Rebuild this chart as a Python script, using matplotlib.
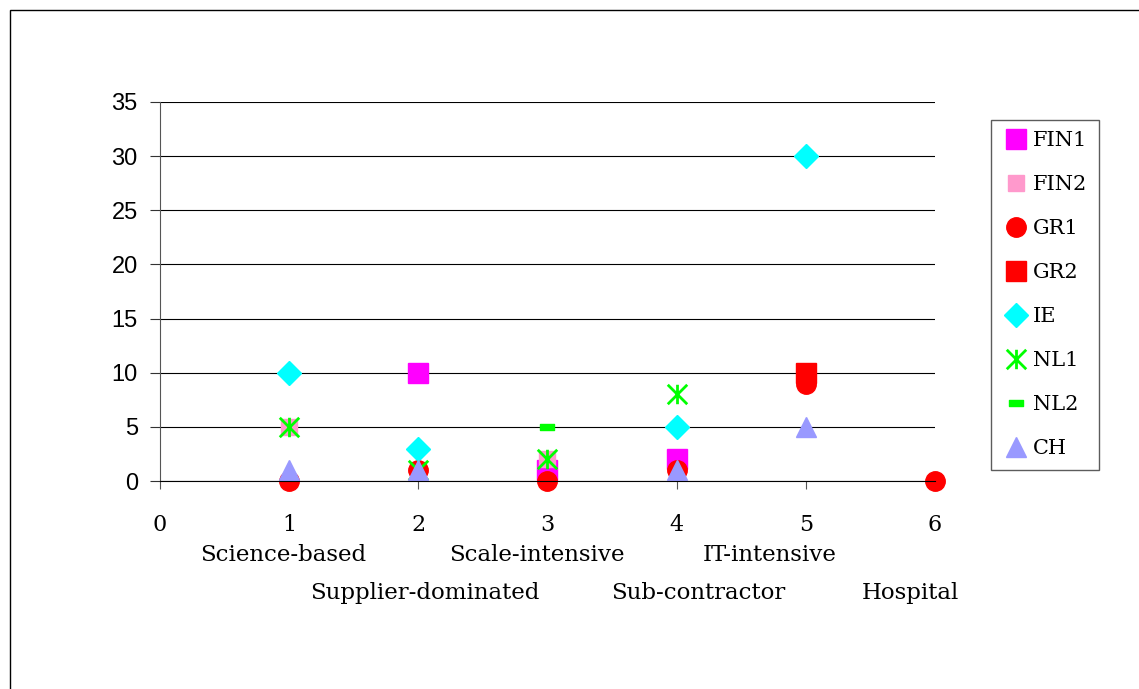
# ----------------------------------------
# Scatter of innovation types by country (Excel-style)
# ----------------------------------------
import numpy as np
import matplotlib
matplotlib.use("Agg")
import matplotlib.pyplot as plt
from matplotlib.path import Path
from matplotlib.patches import Rectangle

nan = np.nan

# ----------------------------------------
# Data
# ----------------------------------------
x_pos = [1, 2, 3, 4, 5, 6]
categories = ["Science-based", "Supplier-dominated", "Scale-intensive",
              "Sub-contractor", "IT-intensive", "Hospital"]

fin1 = [nan, 10, 1, 2, nan, nan]
fin2 = [5, nan, 2, nan, nan, nan]
gr1 = [0, 1, 0, 1, 9, 0]
gr2 = [nan, nan, nan, nan, 10, nan]
ie = [10, 3, nan, 5, 30, nan]
nl1 = [5, 1, 2, 8, nan, nan]
nl2 = [nan, nan, 5, nan, nan, nan]
ch = [1, 1, nan, 1, 5, nan]

# ----------------------------------------
# Layout helpers (pixel positions of category captions, as in the original)
# ----------------------------------------
W, H = 1139, 689
label_px = [283, 425, 537, 698, 770, 910]

# ----------------------------------------
# Custom markers (Excel asterisk and dash)
# ----------------------------------------
asterisk = Path(
    [(-1, -1), (1, 1), (-1, 1), (1, -1), (0, -1), (0, 1)],
    [Path.MOVETO, Path.LINETO, Path.MOVETO, Path.LINETO, Path.MOVETO, Path.LINETO])
dash = Path([(-1, -0.4), (1, -0.4), (1, 0.4), (-1, 0.4), (-1, -0.4)],
            [Path.MOVETO, Path.LINETO, Path.LINETO, Path.LINETO, Path.CLOSEPOLY])

series = [
    ("FIN1", fin1, dict(marker="s", color="#FF00FF", markersize=14)),
    ("FIN2", fin2, dict(marker="s", color="#FF99CC", markersize=11.5)),
    ("GR1", gr1, dict(marker="o", color="#FF0000", markersize=14)),
    ("GR2", gr2, dict(marker="s", color="#FF0000", markersize=14)),
    ("IE", ie, dict(marker="D", color="#00FFFF", markersize=12)),
    ("NL1", nl1, dict(marker=asterisk, color="#00FF00", markersize=14,
                      markeredgewidth=2, markerfacecolor="none")),
    ("NL2", nl2, dict(marker=dash, color="#00FF00", markersize=9.5)),
    ("CH", ch, dict(marker="^", color="#9999FF", markersize=14.5)),
]

# ----------------------------------------
# Figure
# ----------------------------------------
plt.rcParams["font.family"] = ["DejaVu Serif"]
fig = plt.figure(figsize=(W / 100, H / 100), dpi=100)
ax = fig.add_axes([160 / W, 1 - 481 / H, 775 / W, 379 / H])

for name, vals, style in series:
    ax.plot(x_pos, vals, linestyle="none", label=name, clip_on=False,
            markeredgecolor=style["color"], **style)

ax.set_xlim(0, 6)
ax.set_ylim(0, 35)
ax.set_xticks(range(0, 7))
ax.set_yticks(range(0, 40, 5))
ax.grid(axis="y", color="black", linewidth=0.8)
ax.set_axisbelow(True)
for side in ["top", "right"]:
    ax.spines[side].set_visible(False)
ax.spines["left"].set_color("#555555")
ax.spines["bottom"].set_color("black")
ax.tick_params(axis="x", labelsize=16, length=6, color="#555555", pad=18)
ax.tick_params(axis="y", labelsize=17, length=7, color="#333333", pad=9)
for lbl in ax.get_yticklabels():
    lbl.set_fontfamily("Liberation Sans")

# category names under the axis, two staggered rows
for i, (px, cat) in enumerate(zip(label_px, categories)):
    row_y = 1 - 555 / H if i % 2 == 0 else 1 - 593 / H
    fig.text(px / W, row_y, cat, ha="center", va="center", fontsize=16.5)

# legend
fig.legend(loc="upper left", bbox_to_anchor=(991 / W, 1 - 120 / H),
           frameon=True, fancybox=False, edgecolor="#333333", fontsize=15,
           labelspacing=1.2, handletextpad=0.15, handlelength=1.3,
           borderpad=0.55, borderaxespad=0)

# outer chart border
fig.patches.append(Rectangle((10 / W, -0.1), 1.2, 1 - 10 / H + 0.1,
                             transform=fig.transFigure, fill=False,
                             edgecolor="black", linewidth=1))

fig.savefig("out.png", dpi=100)
